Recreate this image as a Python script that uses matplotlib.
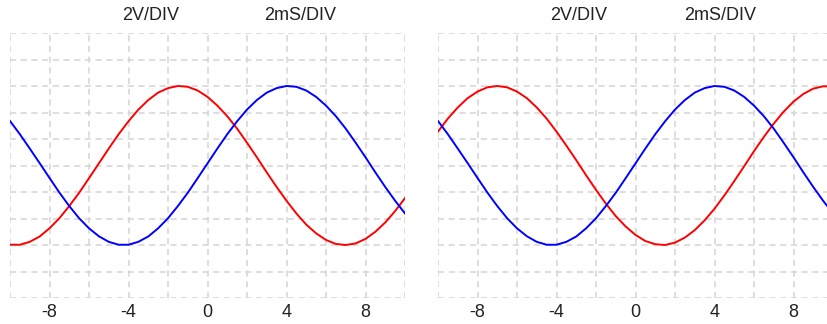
import matplotlib.pyplot as plt
from matplotlib.transforms import blended_transform_factory

plt.rcParams['font.family'] = ['Liberation Sans', 'DejaVu Sans']

# time axis (ms), values in divisions, read every half unit
t = [-10, -9.5, -9, -8.5, -8, -7.5, -7, -6.5, -6, -5.5, -5, -4.5, -4, -3.5,
     -3, -2.5, -2, -1.5, -1, -0.5, 0, 0.5, 1, 1.5, 2, 2.5, 3, 3.5, 4, 4.5,
     5, 5.5, 6, 6.5, 7, 7.5, 8, 8.5, 9, 9.5, 10]

blue = [1.68, 1.18, 0.64, 0.09, -0.47, -1.02, -1.53, -1.99, -2.37, -2.67,
        -2.88, -2.99, -2.99, -2.88, -2.68, -2.37, -1.99, -1.53, -1.03, -0.48,
        0.08, 0.64, 1.18, 1.67, 2.11, 2.47, 2.75, 2.92, 3.00, 2.97,
        2.83, 2.59, 2.26, 1.86, 1.39, 0.86, 0.31, -0.26, -0.81, -1.33, -1.81]

red_left = [-2.99, -2.99, -2.88, -2.68, -2.37, -1.99, -1.53, -1.03, -0.48, 0.08,
            0.64, 1.18, 1.67, 2.11, 2.47, 2.75, 2.92, 3.00, 2.97, 2.83,
            2.59, 2.26, 1.86, 1.39, 0.86, 0.31, -0.26, -0.81, -1.33, -1.81,
            -2.23, -2.56, -2.81, -2.96, -3.00, -2.94, -2.77, -2.50, -2.15, -1.72, -1.23]

red_right = [1.28, 1.77, 2.19, 2.54, 2.79, 2.95, 3.00, 2.95, 2.79, 2.54,
             2.19, 1.77, 1.28, 0.75, 0.20, -0.37, -0.92, -1.44, -1.91, -2.30,
             -2.62, -2.85, -2.97, -3.00, -2.91, -2.72, -2.44, -2.07, -1.63, -1.13,
             -0.59, -0.03, 0.54, 1.08, 1.58, 2.03, 2.41, 2.70, 2.90, 2.99, 2.98]

tick_vals = [-8, -4, 0, 4, 8]
grid_x = [-10, -8, -6, -4, -2, 0, 2, 4, 6, 8, 10]
grid_y = [-5, -4, -3, -2, -1, 0, 1, 2, 3, 4, 5]

W, H = 827, 324
fig = plt.figure(figsize=(W / 100, H / 100), dpi=100)

panels = [
    (10, red_left, (-2.9, 4.7)),
    (438, red_right, (-2.9, 4.3)),
]

for left_px, red, text_x in panels:
    ax = fig.add_axes([left_px / W, 26 / H, 395 / W, 265 / H])
    ax.set_xlim(-10, 10)
    ax.set_ylim(-5, 5)
    for gx in grid_x:
        ax.axvline(gx, color='#d4d4d4', lw=1.1, ls=(0, (4, 3)), zorder=0)
    for gy in grid_y:
        ax.axhline(gy, color='#d4d4d4', lw=1.1, ls=(0, (4, 3)), zorder=0)
    ax.plot(t, red, color='#ff0000', lw=1.4)
    ax.plot(t, blue, color='#0000ff', lw=1.4)
    for s in ax.spines.values():
        s.set_visible(False)
    ax.set_xticks(tick_vals)
    ax.set_xticklabels([str(v) for v in tick_vals])
    ax.set_yticks([])
    ax.tick_params(axis='x', length=0, pad=4, labelsize=13, labelcolor='#222222')
    tr = blended_transform_factory(ax.transData, fig.transFigure)
    ax.text(text_x[0], 1 - 16 / H, '2V/DIV', transform=tr, ha='center', va='center',
            fontsize=13, color='#222222')
    ax.text(text_x[1], 1 - 16 / H, '2mS/DIV', transform=tr, ha='center', va='center',
            fontsize=13, color='#222222')

fig.savefig('out.png', dpi=100)
